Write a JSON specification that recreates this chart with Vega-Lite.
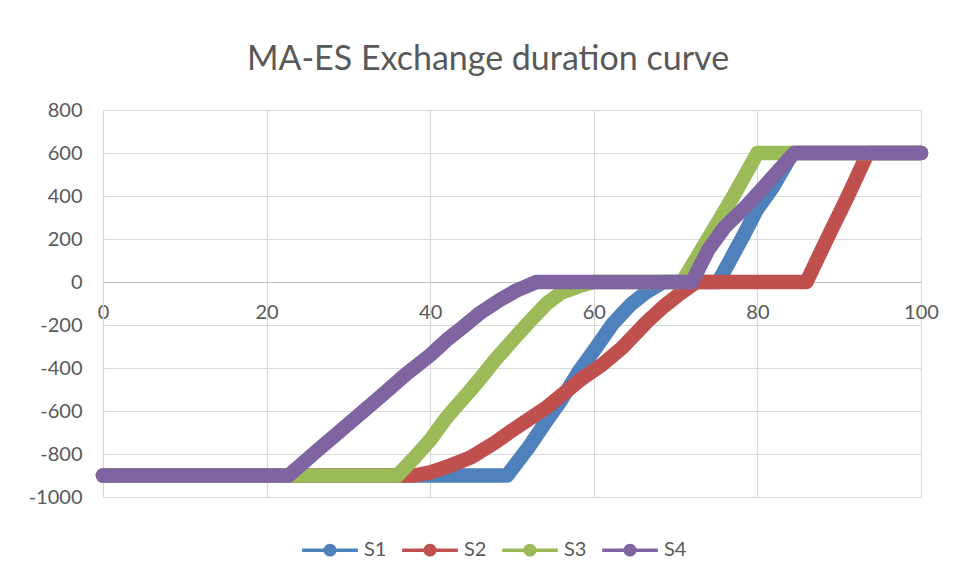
{
  "$schema": "https://vega.github.io/schema/vega-lite/v6.json",
  "autosize": {"type": "none"},
  "padding": {"left": 103, "top": 110, "right": 35, "bottom": 82},
  "width": 818,
  "height": 387,
  "background": "white",
  "title": {
    "text": "MA-ES Exchange duration curve",
    "font": "Lato",
    "fontSize": 34,
    "fontWeight": "normal",
    "color": "#595959",
    "anchor": "middle",
    "frame": "group",
    "dx": -24,
    "offset": 23
  },
  "config": {
    "view": {"stroke": "#d9d9d9", "strokeWidth": 1},
    "axis": {"labelFont": "Lato", "labelFontSize": 20, "labelColor": "#595959", "gridColor": "#d9d9d9", "gridWidth": 1.2, "ticks": false, "title": null, "labelFlush": false},
    "legend": {"labelFont": "Lato", "labelFontSize": 20, "labelColor": "#595959"}
  },
  "data": {"values": [
    {"x": 0, "y": -900, "s": "S1"}, {"x": 49.4, "y": -900, "s": "S1"}, {"x": 52, "y": -770, "s": "S1"}, {"x": 54.3, "y": -642, "s": "S1"}, {"x": 56, "y": -550, "s": "S1"}, {"x": 58.3, "y": -409, "s": "S1"}, {"x": 60, "y": -320, "s": "S1"}, {"x": 62.3, "y": -195, "s": "S1"}, {"x": 64.5, "y": -105, "s": "S1"}, {"x": 66.5, "y": -45, "s": "S1"}, {"x": 68.5, "y": 0, "s": "S1"}, {"x": 75.2, "y": 0, "s": "S1"}, {"x": 76.5, "y": 90, "s": "S1"}, {"x": 78.2, "y": 209, "s": "S1"}, {"x": 79.9, "y": 335, "s": "S1"}, {"x": 81.9, "y": 442, "s": "S1"}, {"x": 84.3, "y": 600, "s": "S1"}, {"x": 100, "y": 600, "s": "S1"},
    {"x": 0, "y": -900, "s": "S2"}, {"x": 38, "y": -900, "s": "S2"}, {"x": 40, "y": -885, "s": "S2"}, {"x": 42, "y": -860, "s": "S2"}, {"x": 45, "y": -815, "s": "S2"}, {"x": 48, "y": -745, "s": "S2"}, {"x": 50.1, "y": -688, "s": "S2"}, {"x": 54.3, "y": -581, "s": "S2"}, {"x": 58.3, "y": -456, "s": "S2"}, {"x": 61, "y": -385, "s": "S2"}, {"x": 63.5, "y": -305, "s": "S2"}, {"x": 66.5, "y": -185, "s": "S2"}, {"x": 68.5, "y": -115, "s": "S2"}, {"x": 70.5, "y": -55, "s": "S2"}, {"x": 72.5, "y": 0, "s": "S2"}, {"x": 86, "y": 0, "s": "S2"}, {"x": 88.5, "y": 200, "s": "S2"}, {"x": 91, "y": 395, "s": "S2"}, {"x": 93.5, "y": 600, "s": "S2"}, {"x": 100, "y": 600, "s": "S2"},
    {"x": 0, "y": -900, "s": "S3"}, {"x": 36, "y": -900, "s": "S3"}, {"x": 38, "y": -820, "s": "S3"}, {"x": 40, "y": -735, "s": "S3"}, {"x": 42, "y": -630, "s": "S3"}, {"x": 45, "y": -500, "s": "S3"}, {"x": 46.1, "y": -450, "s": "S3"}, {"x": 48, "y": -360, "s": "S3"}, {"x": 50.1, "y": -270, "s": "S3"}, {"x": 52, "y": -190, "s": "S3"}, {"x": 54.3, "y": -98, "s": "S3"}, {"x": 56, "y": -50, "s": "S3"}, {"x": 58.3, "y": -18, "s": "S3"}, {"x": 60, "y": 0, "s": "S3"}, {"x": 70.8, "y": 0, "s": "S3"}, {"x": 74.6, "y": 242, "s": "S3"}, {"x": 77, "y": 395, "s": "S3"}, {"x": 80, "y": 600, "s": "S3"}, {"x": 100, "y": 600, "s": "S3"},
    {"x": 0, "y": -900, "s": "S4"}, {"x": 22.7, "y": -900, "s": "S4"}, {"x": 26, "y": -790, "s": "S4"}, {"x": 30, "y": -660, "s": "S4"}, {"x": 34, "y": -530, "s": "S4"}, {"x": 37, "y": -430, "s": "S4"}, {"x": 40, "y": -340, "s": "S4"}, {"x": 42, "y": -270, "s": "S4"}, {"x": 44, "y": -210, "s": "S4"}, {"x": 46.1, "y": -144, "s": "S4"}, {"x": 48.5, "y": -84, "s": "S4"}, {"x": 50.5, "y": -40, "s": "S4"}, {"x": 53, "y": 0, "s": "S4"}, {"x": 72, "y": 0, "s": "S4"}, {"x": 74, "y": 150, "s": "S4"}, {"x": 76, "y": 255, "s": "S4"}, {"x": 78.7, "y": 355, "s": "S4"}, {"x": 81.2, "y": 460, "s": "S4"}, {"x": 84.5, "y": 600, "s": "S4"}, {"x": 100, "y": 600, "s": "S4"}
  ]},
  "mark": {"type": "line", "strokeWidth": 14.5, "strokeCap": "round", "strokeJoin": "round"},
  "encoding": {
    "x": {"field": "x", "type": "quantitative", "scale": {"domain": [0, 100], "nice": false},
      "axis": {"values": [0, 20, 40, 60, 80, 100], "offset": -215, "domainColor": "#bfbfbf", "domainWidth": 1.2, "labelPadding": 20, "grid": true, "labelExpr": "datum.value + ''"}},
    "y": {"field": "y", "type": "quantitative", "scale": {"domain": [-1000, 800], "nice": false, "zero": false},
      "axis": {"values": [-1000, -800, -600, -400, -200, 0, 200, 400, 600, 800], "domainColor": "#d9d9d9", "labelPadding": 21, "labelExpr": "datum.value + ''"}},
    "color": {"field": "s", "type": "nominal",
      "scale": {"domain": ["S1", "S2", "S3", "S4"], "range": ["#4f81bd", "#c0504d", "#9bbb59", "#8064a2"]},
      "legend": {"orient": "none", "legendX": 197, "legendY": 410, "direction": "horizontal", "title": null, "padding": 0,
        "symbolType": "M-1,0L1,0M0.17,0A0.17,0.17 0 1,1 -0.17,0A0.17,0.17 0 1,1 0.17,0M0.09,0A0.09,0.09 0 1,1 -0.09,0A0.09,0.09 0 1,1 0.09,0M0.03,0A0.03,0.03 0 1,1 -0.03,0A0.03,0.03 0 1,1 0.03,0",
        "symbolSize": 3100, "symbolStrokeWidth": 3.5, "labelOffset": 4, "columnPadding": 8}}
  }
}
